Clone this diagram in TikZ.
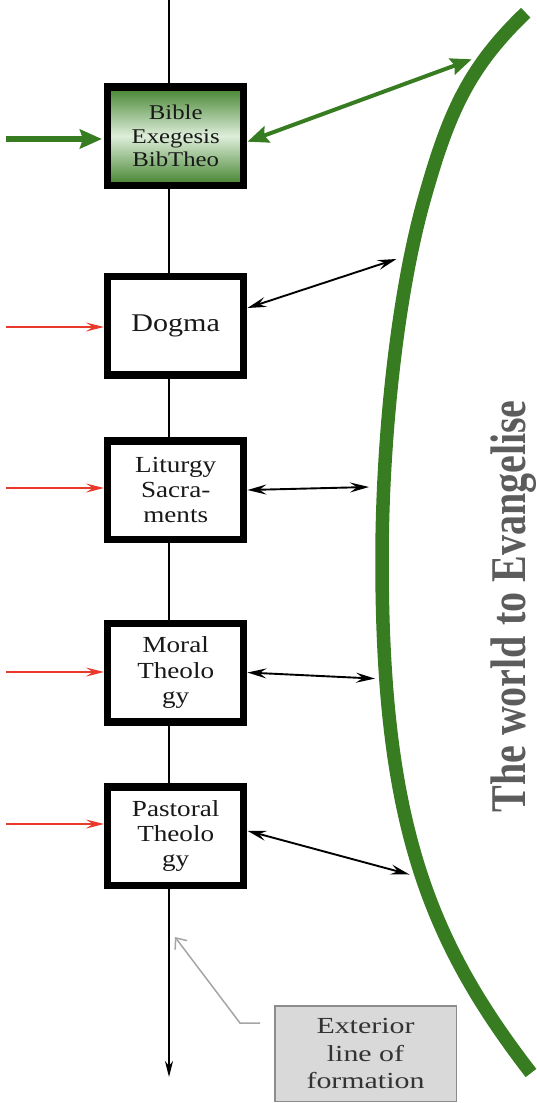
\documentclass[tikz,border=0pt]{standalone}
\usepackage{fontspec}
\setmainfont{Liberation Serif}
\newfontfamily\bxfont[FakeStretch=1.18]{Liberation Serif}
\newfontfamily\exfont[FakeStretch=1.3]{Liberation Serif}
\usetikzlibrary{arrows.meta,calc}
\definecolor{tgreen}{RGB}{56,124,34}
\definecolor{tlight}{RGB}{222,238,218}
\definecolor{tred}{RGB}{232,57,44}
\definecolor{tgraytext}{RGB}{92,92,92}
\definecolor{exfill}{RGB}{217,217,217}
\definecolor{exborder}{RGB}{140,140,140}
\definecolor{leadercol}{RGB}{165,165,165}
\begin{document}
\begin{tikzpicture}[x=1pt,y=-1pt,
  box/.style={draw=black, line width=7.5pt, fill=white, minimum width=136pt,
    minimum height=98.5pt, inner sep=0pt, align=center, text=black!90,
    font=\bxfont\fontsize{23}{25.3}\selectfont},
  feed/.style={draw=tred, line width=1.4pt, -{Stealth[length=18pt,width=9pt,inset=7pt]}},
  link/.style={draw=black, line width=1.9pt,
    {Stealth[length=19pt,width=10pt,inset=7pt]}-{Stealth[length=19pt,width=10pt,inset=7pt]}},
  gfeed/.style={draw=tgreen, line width=5.5pt, -{Stealth[length=22pt,width=19pt,inset=3pt]}},
  glink/.style={draw=tgreen, line width=4pt,
    {Stealth[length=21pt,width=17pt,inset=3pt]}-{Stealth[length=21pt,width=17pt,inset=3pt]}},
]
\useasboundingbox (0,0) rectangle (536,1103);

% main vertical line
\coordinate (ltop) at (169,0);
\coordinate (lbot) at (169,1077);
\draw[line width=2pt, -{Stealth[length=16pt,width=8pt,inset=5pt]}] (ltop) -- (lbot);

% world arc
\draw[tgreen, line width=13.5pt]
  (525.7,12.7) .. controls (468.1,67.9) and (448.3,113.6) .. (424,200)
  .. controls (397,296) and (382,440) .. (382,560)
  .. controls (382,820) and (427.3,938.7) .. (531,1073);

% boxes
\node[box, draw=black, top color=tgreen!95, bottom color=tgreen!95, middle color=tlight,
  font=\bxfont\fontsize{21}{23.3}\selectfont] (bible) at (175.7,136) {Bible\\Exegesis\\BibTheo};
\node[box, font=\bxfont\fontsize{25.5}{28}\selectfont] (dogma) at (175.7,325.5) {\raisebox{-5pt}{Dogma}};
\node[box] (liturgy) at (175.7,490) {Liturgy\\Sacra-\\ments};
\node[box] (moral) at (175.7,672.5) {Moral\\Theolo\\gy};
\node[box] (pastoral) at (175.7,836) {Pastoral\\Theolo\\gy};

% world label
\node[rotate=90, anchor=base, text=tgraytext, inner sep=0pt,
  font=\fontsize{40}{40}\selectfont\bfseries] (world) at (525,606.5)
  {\scalebox{1}[1.25]{The world to Evangelise}};

% inputs from the left
\coordinate (g0) at (6,139);
\draw[gfeed, shorten >=2pt] (g0) -- (bible.west |- g0);
\coordinate (r1) at (6,327);
\coordinate (r2) at (6,488);
\coordinate (r3) at (6,672);
\coordinate (r4) at (6,824);
\draw[feed] (r1) -- (dogma.west |- r1);
\draw[feed] (r2) -- (liturgy.west |- r2);
\draw[feed] (r3) -- (moral.west |- r3);
\draw[feed] (r4) -- (pastoral.west |- r4);

% links to the world
\coordinate (wg) at (471.7,59.3);
\coordinate (w1) at (396.5,259);
\coordinate (w2) at (369,487);
\coordinate (w3) at (375,678.6);
\coordinate (w4) at (409.5,874.5);
\draw[glink] ([yshift=-5.7pt]bible.east) -- (wg);
\draw[link] ([yshift=17.5pt]dogma.east) -- (w1);
\draw[link] (liturgy.east) -- (w2);
\draw[link] (moral.east) -- (w3);
\draw[link] ([yshift=5.2pt]pastoral.east) -- (w4);

% exterior line label
\node[draw=exborder, fill=exfill, line width=1.5pt, minimum width=181.5pt,
  minimum height=95.5pt, inner sep=0pt, align=center, text=black!80,
  font=\exfont\fontsize{23}{27.5}\selectfont] (ext) at (365.5,1053.5)
  {Exterior\\line of\\formation};
\coordinate (lk) at (240,1023);
\coordinate (lt) at (175,937);
\draw[leadercol, line width=1.5pt, -{Straight Barb[length=9pt,width=15pt]}]
  ([xshift=-14pt,yshift=30.5pt]ext.west) -- (lk) -- (lt);
\end{tikzpicture}
\end{document}
